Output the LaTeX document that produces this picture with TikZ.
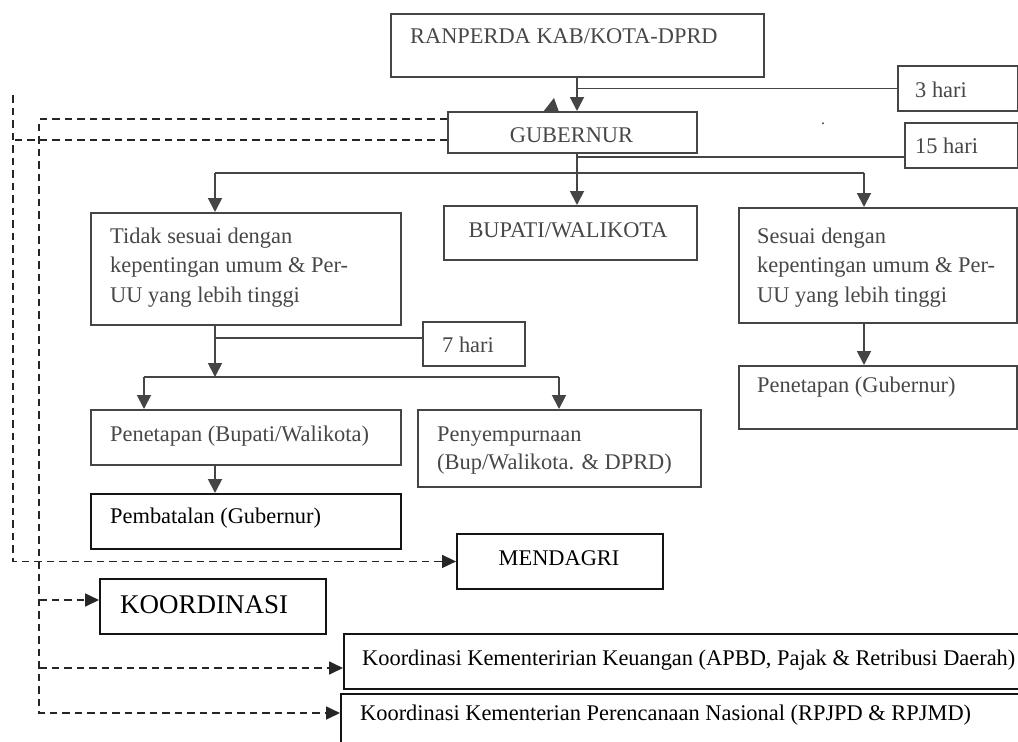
\documentclass[tikz,border=0pt]{standalone}
\usepackage{fontspec}
\setmainfont{Liberation Serif}
\usetikzlibrary{arrows.meta}
\definecolor{ln}{HTML}{454545}
\definecolor{tx}{HTML}{474747}
\begin{document}
\begin{tikzpicture}[x=1pt,y=-1pt,
  box/.style={draw=ln, line width=1.9pt, inner sep=0pt, anchor=north west, rectangle},
  bbox/.style={box, draw=black!92},
  lbl/.style={inner sep=0pt, anchor=base west, text=tx, font=\fontsize{22.4}{29.5}\selectfont, align=left},
  blbl/.style={lbl, text=black},
  conn/.style={draw=ln, line width=1.9pt},
  arr/.style={conn, -{Triangle[length=14pt,width=14pt]}},
  dsh/.style={draw=black!85, line width=1.7pt, dash pattern=on 7.5pt off 5pt},
  darr/.style={dsh, -{Triangle[length=14pt,width=13pt]}},
]
\useasboundingbox (0,0) rectangle (1018,742);
\fill[white] (0,0) rectangle (1018,742);

% boxes
\node[box, minimum width=373pt, minimum height=63pt] (ran) at (390,13) {};
\node[box, minimum width=120pt, minimum height=45pt] (d3) at (897,65) {};
\node[box, minimum width=249pt, minimum height=41pt] (gub) at (447,111) {};
\node[box, minimum width=113pt, minimum height=45pt] (d15) at (904,122) {};
\node[box, minimum width=310pt, minimum height=112pt] (tidak) at (90,212) {};
\node[box, minimum width=253pt, minimum height=54pt] (bup) at (443,205) {};
\node[box, minimum width=278pt, minimum height=115pt] (ses) at (738,207) {};
\node[box, minimum width=102pt, minimum height=44pt] (d7) at (422,321) {};
\node[box, minimum width=310pt, minimum height=55pt] (pbw) at (90,409) {};
\node[box, minimum width=283pt, minimum height=77pt] (peny) at (417,409) {};
\node[box, minimum width=278pt, minimum height=63pt] (pgub) at (738,365) {};
\node[bbox, minimum width=310pt, minimum height=55pt] (pemb) at (90,493) {};
\node[bbox, minimum width=206pt, minimum height=55pt] (mend) at (456,533) {};
\node[bbox, minimum width=226pt, minimum height=55pt] (koor) at (99,578) {};
\node[bbox, minimum width=700pt, minimum height=55pt] (keu) at (343,633) {};
\node[bbox, minimum width=700pt, minimum height=70pt] (ren) at (340,693) {};

% texts (multi-line nodes: base = last line)
\node[lbl] (ranT) at (410,43) {RANPERDA KAB/KOTA-DPRD};
\node[lbl] (d3T) at (915,97) {3 hari};
\node[lbl] (d15T) at (915,153) {15 hari};
\node[lbl, font=\fontsize{16}{16}\selectfont] (dotT) at (821,124) {.};
\node[lbl, anchor=base] (gubT) at (571.5,142) {GUBERNUR};
\node[lbl, anchor=base] (bupT) at (568,237) {BUPATI/WALIKOTA};
\node[lbl] (tidakT) at (110,302) {Tidak sesuai dengan\\kepentingan umum \& Per-\\UU yang lebih tinggi};
\node[lbl] (sesT) at (757,302) {Sesuai dengan\\kepentingan umum \& Per-\\UU yang lebih tinggi};
\node[lbl] (d7T) at (442,352) {7 hari};
\node[lbl] (pbwT) at (110,441) {Penetapan (Bupati/Walikota)};
\node[lbl, font=\fontsize{22.4}{28}\selectfont] (penyT) at (437,469) {Penyempurnaan\\(Bup/Walikota. \& DPRD)};
\node[lbl] (pgubT) at (757,392) {Penetapan (Gubernur)};
\node[blbl] (pembT) at (110,523) {Pembatalan (Gubernur)};
\node[blbl, anchor=base] (mendT) at (559,565) {MENDAGRI};
\node[blbl, font=\fontsize{27}{30}\selectfont] (koorT) at (120,613) {KOORDINASI};
\node[blbl] (keuT) at (362,665) {Koordinasi Kementeririan Keuangan (APBD, Pajak \& Retribusi Daerah)};
\node[blbl] (renT) at (360,720) {Koordinasi Kementerian Perencanaan Nasional (RPJPD \& RPJMD)};

% solid connectors
\coordinate (x577) at (577,0);
\draw[arr] (ran.south -| x577) -- (gub.north -| x577);
\draw[conn] (d3.west) -- (d3.west -| x577);
\fill[ln] (543,112) -- (559,112) -- (554,98) -- cycle;
\draw[arr] (gub.south -| x577) -- (bup.north -| x577);
\coordinate (j15) at (904,157);
\draw[conn] (j15) -- (j15 -| x577);
\coordinate (hL) at (215,173);
\coordinate (hR) at (864,173);
\draw[conn] (hL) -- (hR);
\draw[arr] (hL) -- (hL |- tidak.north);
\draw[arr] (hR) -- (hR |- ses.north);
\coordinate (h7) at (422,338);
\draw[conn] (h7) -- (h7 -| hL);
\coordinate (m7) at (215,377);
\draw[arr] (tidak.south -| hL) -- (m7);
\coordinate (mL) at (144,377);
\coordinate (mR) at (559,377);
\draw[conn] (mL) -- (mR);
\draw[arr] (mL) -- (mL |- pbw.north);
\draw[arr] (mR) -- (mR |- peny.north);
\draw[arr] (pbw.south -| hL) -- (pemb.north -| hL);
\draw[arr] (ses.south -| hR) -- (pgub.north -| hR);

% dashed connectors
\coordinate (gw1) at (447,119);
\coordinate (gw2) at (447,140);
\coordinate (oT) at (13,95);
\coordinate (iT) at (39,119);
\coordinate (iB) at (39,713);
\coordinate (ik) at (39,600);
\coordinate (ikeu) at (39,668);
\draw[dsh] (gw2) -- (gw2 -| oT);
\draw[darr] (oT) -- (oT |- mend.west) -- (mend.west);
\draw[darr] (gw1) -- (iT) -- (iB) -- (iB -| ren.west);
\draw[darr] (ik) -- (ik -| koor.west);
\draw[darr] (ikeu) -- (ikeu -| keu.west);
\end{tikzpicture}
\end{document}
